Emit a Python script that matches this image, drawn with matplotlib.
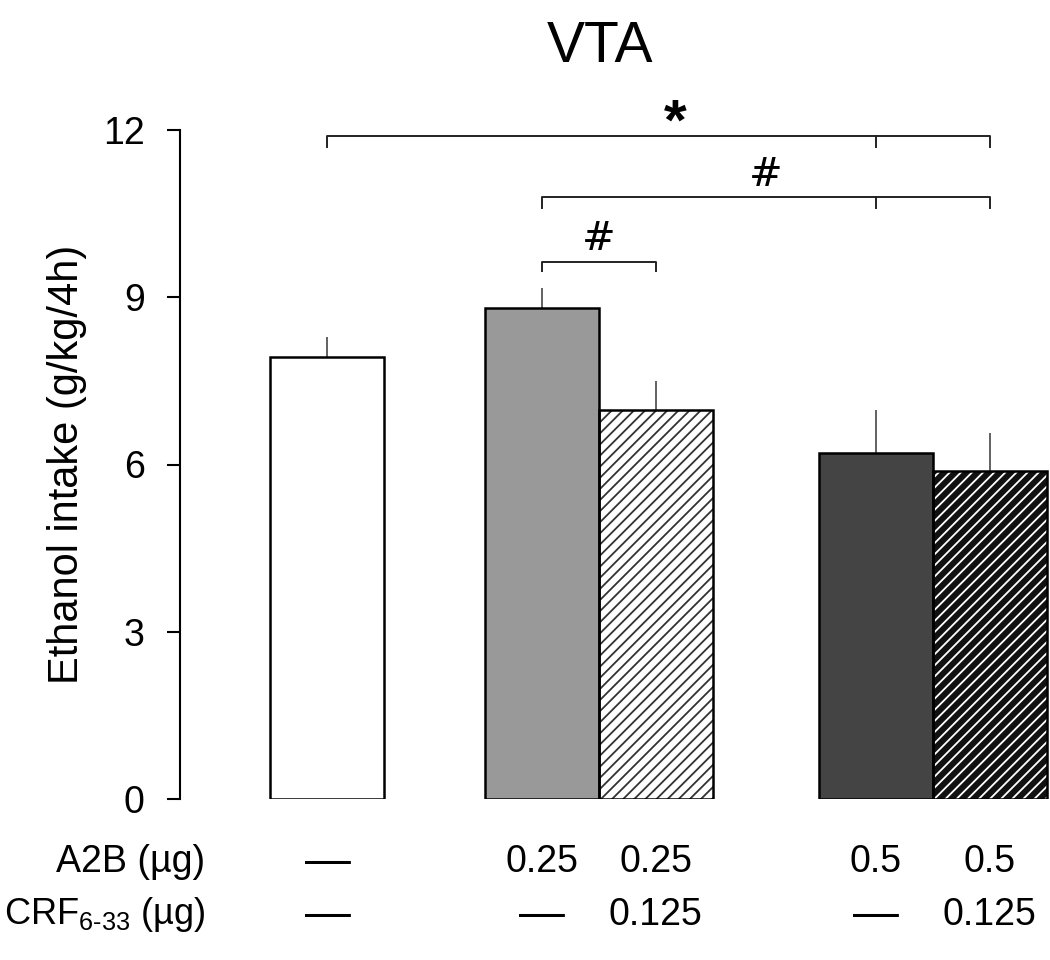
import numpy as np
import matplotlib
matplotlib.use('Agg')
import matplotlib.pyplot as plt
from matplotlib.transforms import blended_transform_factory

# ---- data ----
groups = ['Vehicle', 'A2B 0.25', 'A2B 0.25 + CRF', 'A2B 0.5', 'A2B 0.5 + CRF']
intake = [7.93, 8.81, 6.97, 6.21, 5.89]
sem = [0.36, 0.36, 0.52, 0.77, 0.67]
a2b_labels = ['—', '0.25', '0.25', '0.5', '0.5']
crf_labels = ['—', '—', '0.125', '—', '0.125']
yticks = [0, 3, 6, 9, 12]

# ---- style ----
plt.rcParams['font.family'] = ['Liberation Sans', 'DejaVu Sans']
plt.rcParams['mathtext.fontset'] = 'custom'
plt.rcParams['mathtext.rm'] = 'Liberation Sans'
plt.rcParams['hatch.linewidth'] = 1.3

pos = np.array([0, 1.88, 2.88, 4.81, 5.81])
faces = ['white', '#999999', 'white', '#444444', '#111111']
hatches = [None, None, '///', None, '///']
hatch_cols = [None, None, '#333333', None, 'white']

fig = plt.figure(figsize=(10.5, 9.6), dpi=100)
ax = fig.add_axes([180 / 1050, 1 - 799 / 960, 870 / 1050, 669 / 960])

# bars (hatch drawn first, outline on top)
for i in range(len(intake)):
    if hatches[i]:
        ax.bar(pos[i], intake[i], width=1.0, color=faces[i], edgecolor=hatch_cols[i],
               hatch=hatches[i], linewidth=0, zorder=2)
    else:
        ax.bar(pos[i], intake[i], width=1.0, color=faces[i], linewidth=0, zorder=2)
    ax.bar(pos[i], intake[i], width=1.0, fill=False, edgecolor='black', linewidth=1.8, zorder=3)

# upper error bars only
ax.errorbar(pos, intake, yerr=[np.zeros(len(sem)), sem], fmt='none', ecolor='#555555',
            elinewidth=1.3, capsize=0, zorder=1)

ax.set_xlim(-1.294, 6.34)
ax.set_ylim(0, 12)
ax.set_yticks(yticks)
ax.set_xticks([])
for s in ['top', 'right', 'bottom']:
    ax.spines[s].set_visible(False)
ax.spines['left'].set_bounds(0, 12)
ax.spines['left'].set_linewidth(1.5)
ax.tick_params(axis='y', direction='out', length=9.5, width=1.5, pad=16, labelsize=27)


# significance brackets
def bracket(x0, x1, y, drop, mid=None):
    ax.plot([x0, x0, x1, x1], [y - drop, y, y, y - drop], color='#222222', lw=1.4,
            clip_on=False, zorder=4)
    if mid is not None:
        ax.plot([mid, mid], [y, y - drop], color='#222222', lw=1.4, clip_on=False, zorder=4)


bracket(pos[0], pos[4], 11.89, 0.2, mid=pos[3])
ax.text((pos[0] + pos[4]) / 2 + 0.15, 11.62, '*', ha='center', va='bottom', fontsize=42,
        fontweight='bold', clip_on=False)
bracket(pos[1], pos[4], 10.79, 0.19, mid=pos[3])
ax.text((pos[1] + pos[4]) / 2, 10.86, '#', ha='center', va='bottom', fontsize=29,
        family='DejaVu Serif')
bracket(pos[1], pos[2], 9.64, 0.17)
ax.text((pos[1] + pos[2]) / 2, 9.71, '#', ha='center', va='bottom', fontsize=29,
        family='DejaVu Serif')

# title and y label
fig.text(600 / 1050, 1 - 62 / 960, 'VTA', ha='center', va='baseline', fontsize=41)
fig.text(67 / 1050, 1 - 464 / 960, 'Ethanol intake (g/kg/4h)', rotation=90,
         ha='center', va='center', fontsize=30)

# treatment table under the bars
tr = blended_transform_factory(ax.transData, fig.transFigure)
row1_y = 1 - 862 / 960
row2_y = 1 - 915 / 960
for i in range(len(pos)):
    for lab, yy in [(a2b_labels[i], row1_y), (crf_labels[i], row2_y)]:
        fs = 33 if lab == '—' else 27
        ax.text(pos[i], yy, lab, transform=tr, ha='center', va='center',
                fontsize=fs, clip_on=False)
fig.text(205 / 1050, row1_y, 'A2B (µg)', ha='right', va='center', fontsize=27)
fig.text(205 / 1050, row2_y, r'CRF$_{\mathrm{6\text{-}33}}$ (µg)', ha='right', va='center',
         fontsize=26)

fig.savefig('out.png', dpi=100)
